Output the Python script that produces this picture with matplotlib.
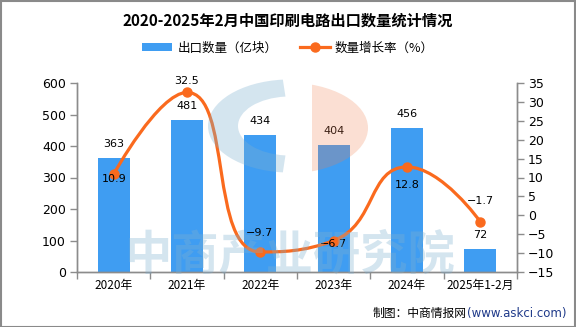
import numpy as np
import matplotlib
matplotlib.use('Agg')
import matplotlib.pyplot as plt
from matplotlib.path import Path
from matplotlib.patches import PathPatch, Rectangle, Wedge, Circle
from matplotlib.lines import Line2D
from matplotlib.patches import Patch

plt.rcParams['font.family'] = ['Noto Sans CJK SC', 'DejaVu Sans']

# ---------------- data ----------------
categories = ['2020年', '2021年', '2022年', '2023年', '2024年', '2025年1-2月']
export_qty = [363, 481, 434, 404, 456, 72]          # 出口数量（亿块）
growth = [10.9, 32.5, -9.7, -6.7, 12.8, -1.7]        # 数量增长率（%）
left_ticks = [0, 100, 200, 300, 400, 500, 600]
right_ticks = [-15, -10, -5, 0, 5, 10, 15, 20, 25, 30, 35]
title = '2020-2025年2月中国印刷电路出口数量统计情况'
bar_name = '出口数量（亿块）'
line_name = '数量增长率（%）'

BAR_C = '#3F9DF2'
LINE_C = '#FA6A1E'
AX_C = '#8c8c8c'

W, H = 576, 327
fig = plt.figure(figsize=(W / 100, H / 100), dpi=100)
L, R, B, T = 77, 517, 272, 83
ax = fig.add_axes([L / W, 1 - B / H, (R - L) / W, (B - T) / H])
ax2 = ax.twinx()

x = np.arange(len(categories))
ax.bar(x, export_qty, width=0.44, color=BAR_C, zorder=2)
ax.set_xlim(-0.5, len(categories) - 0.5)
ax.set_ylim(left_ticks[0], left_ticks[-1])
ax.set_yticks(left_ticks)
ax2.set_ylim(right_ticks[0], right_ticks[-1])
ax2.set_yticks(right_ticks)

# x ticks at category boundaries, labels at centres
ax.set_xticks(np.arange(-0.5, len(categories), 1.0))
ax.set_xticklabels([])
ax.set_xticks(x, minor=True)
ax.set_xticklabels(categories, minor=True, fontsize=8.5)
ax.tick_params(axis='x', which='major', length=5, color=AX_C, width=1)
ax.tick_params(axis='x', which='minor', length=0, pad=5)
ax.tick_params(axis='y', length=5, color=AX_C, width=1, labelsize=9, pad=3)
ax2.tick_params(axis='y', length=5, color=AX_C, width=1, labelsize=9, pad=3)
for a in (ax, ax2):
    a.spines['top'].set_visible(False)
    for s in ('left', 'right', 'bottom'):
        a.spines[s].set_color(AX_C)
        a.spines[s].set_linewidth(1)
ax.set_yticklabels([str(v) for v in left_ticks], family='DejaVu Sans')
ax2.set_yticklabels([str(v).replace('-', '\u2212') for v in right_ticks], family='DejaVu Sans')

# ---------------- smooth line (ECharts-style bezier, smooth=0.5) ----------------
sx = (R - L) / len(categories)
sy = (B - T) / (right_ticks[-1] - right_ticks[0])
pts = np.column_stack([x * sx, np.array(growth) * sy])
smooth = 0.5
verts = [tuple(pts[0])]
codes = [Path.MOVETO]
cp0 = pts[0].copy()
n = len(pts)
for k in range(1, n):
    px, py = pts[k - 1]
    cx, cy = pts[k]
    if k == n - 1:
        cp1 = np.array([cx, cy])
        ncp0 = np.array([cx, cy])
    else:
        nx_, ny_ = pts[k + 1]
        vx, vy = nx_ - px, ny_ - py
        lp = np.hypot(cx - px, cy - py)
        ln = np.hypot(nx_ - cx, ny_ - cy)
        ratio = ln / (ln + lp)
        ncx = cx + vx * smooth * ratio
        ncy = cy + vy * smooth * ratio
        ncx = min(ncx, max(nx_, cx)); ncy = min(ncy, max(ny_, cy))
        ncx = max(ncx, min(nx_, cx)); ncy = max(ncy, min(ny_, cy))
        vx, vy = ncx - cx, ncy - cy
        c1x = cx - vx * lp / ln
        c1y = cy - vy * lp / ln
        c1x = min(c1x, max(px, cx)); c1y = min(c1y, max(py, cy))
        c1x = max(c1x, min(px, cx)); c1y = max(c1y, min(py, cy))
        vx, vy = cx - c1x, cy - c1y
        ncp0 = np.array([cx + vx * ln / lp, cy + vy * ln / lp])
        cp1 = np.array([c1x, c1y])
    verts += [tuple(cp0), tuple(cp1), (cx, cy)]
    codes += [Path.CURVE4] * 3
    cp0 = ncp0
verts = [(vx_ / sx, vy_ / sy) for vx_, vy_ in verts]
ax2.add_patch(PathPatch(Path(verts, codes), facecolor='none', edgecolor=LINE_C,
                        linewidth=2.3, zorder=3, capstyle='round'))
ax2.plot(x, growth, linestyle='none', marker='o', markersize=6.5, color=LINE_C, zorder=4)

# ---------------- labels ----------------
for xi, v in zip(x, export_qty):
    ax.annotate(str(v), (xi, v), xytext=(0, 14), textcoords='offset pixels',
                ha='center', va='center', fontsize=8, family='DejaVu Sans', zorder=5)
g_off = [(1, -5), (0, 11), (-1, 19), (0, -3), (0, -18), (0, 21)]
for xi, v, (dx, dy) in zip(x, growth, g_off):
    ax2.annotate(f'{v}'.replace('-', '\u2212'), (xi, v), xytext=(dx, dy), textcoords='offset pixels',
                 ha='center', va='center', fontsize=8, family='DejaVu Sans', zorder=5)

# ---------------- watermark ----------------
wm_b = '#7fb0d0'
wm_o = '#f08050'
fig.patches.append(Wedge((290 / W, 1 - 126 / H), 82 / W, 95, 265, width=30 / W,
                         transform=fig.transFigure, facecolor=wm_b, alpha=0.33,
                         edgecolor='none', zorder=6))
seg = Circle((288 / W, 1 - 128 / H), 80 / W, transform=fig.transFigure,
             facecolor=wm_o, alpha=0.25, edgecolor='none', zorder=6)
clip = Rectangle((312 / W, 0), 0.5, 1, transform=fig.transFigure)
fig.patches.append(seg)
seg.set_clip_path(clip)
fig.text(290 / W, 1 - 255 / H, '中商产业研究院', fontsize=34, fontweight='bold',
         color=wm_b, alpha=0.33, ha='center', va='center', zorder=6)

# ---------------- title, legend, footer ----------------
fig.text(288 / W, 1 - 21 / H, title, fontsize=11, fontweight='bold',
         ha='center', va='center')
handles = [Patch(facecolor=BAR_C, edgecolor='none'),
           Line2D([0], [0], color=LINE_C, lw=2.3, marker='o', markersize=6.5)]
fig.legend(handles, [bar_name, line_name], loc='center', bbox_to_anchor=(288 / W, 1 - 48 / H),
           ncol=2, frameon=False, fontsize=9, handlelength=2.4, handleheight=0.6,
           columnspacing=1.8, handletextpad=0.4)
t1 = fig.text(566 / W, 1 - 313 / H, '(www.askci.com)', fontsize=8.5, color='#1F3A8A',
              ha='right', va='center', family='DejaVu Sans')
fig.canvas.draw()
bb = t1.get_window_extent()
fig.text(bb.x0 / W, 1 - 313 / H, '制图：中商情报网', fontsize=8.5, ha='right', va='center')

# border
fig.patches.append(Rectangle((0.5 / W, 0.5 / H), (W - 1.5) / W, (H - 1.5) / H,
                             transform=fig.transFigure, fill=False,
                             edgecolor='#8a8a8a', linewidth=1.5, zorder=10))

fig.savefig('out.png', dpi=100)
